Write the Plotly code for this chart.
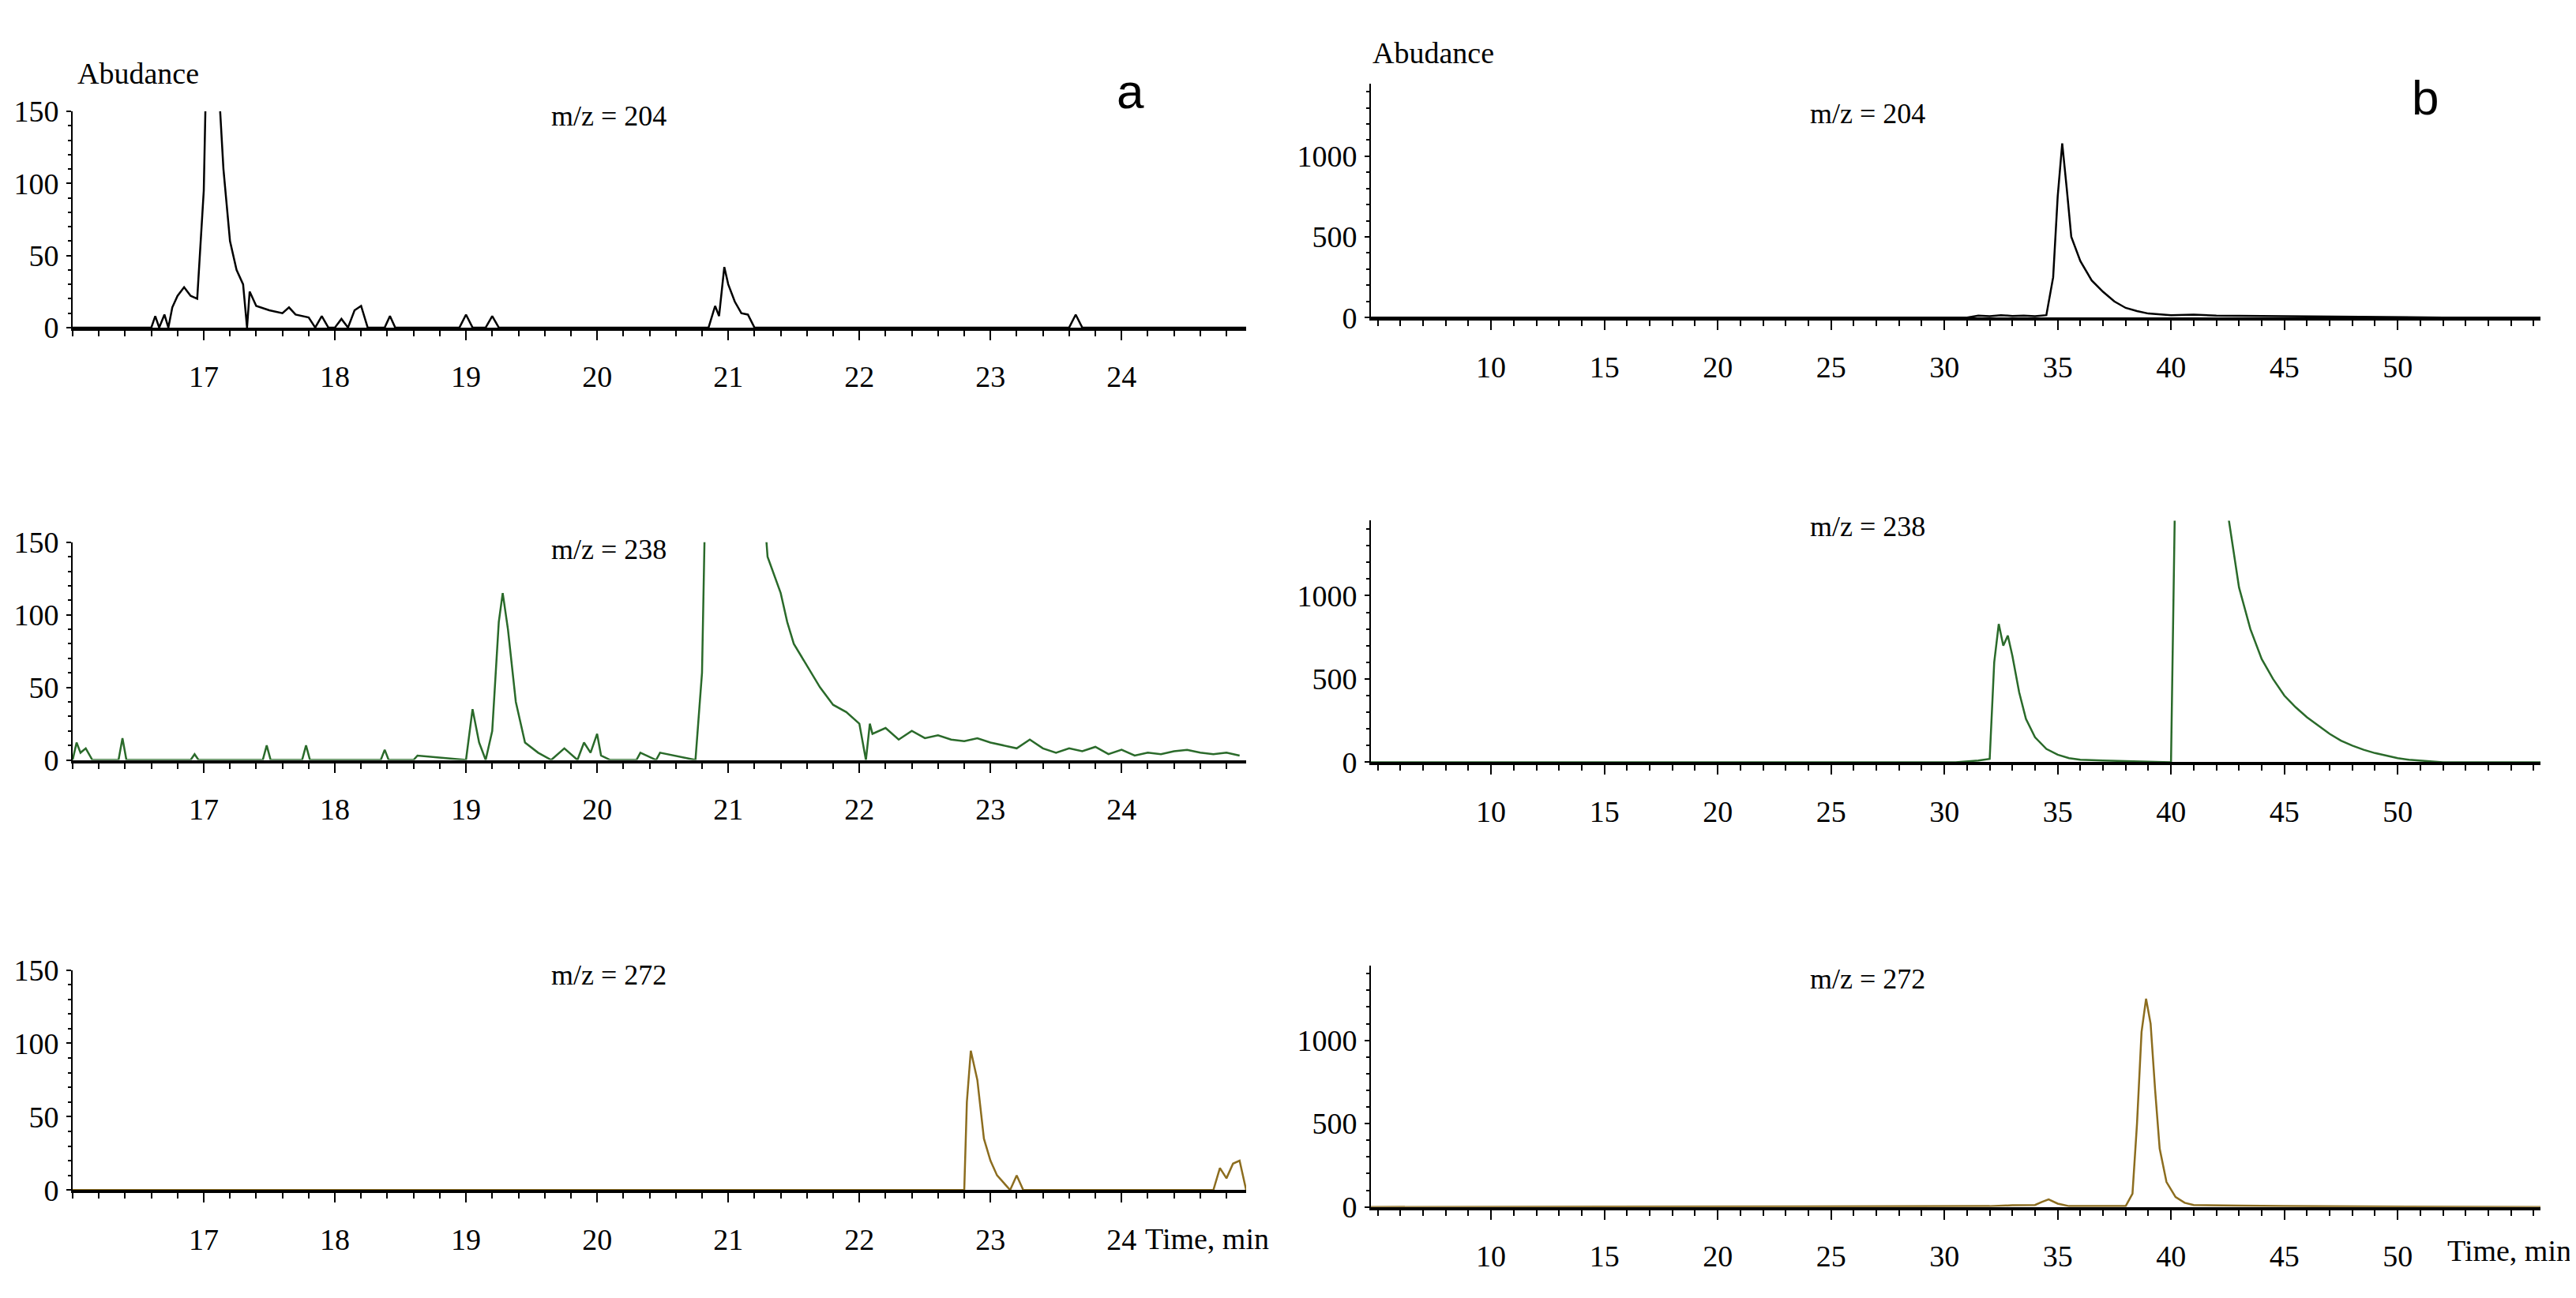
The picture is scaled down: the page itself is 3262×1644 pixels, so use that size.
import plotly.graph_objects as go

W, H = 3262, 1644

# ---- panel a (16-25 min), abundance 0-150 ----
a204_t = [16.0, 16.6, 16.63, 16.66, 16.7, 16.73, 16.76, 16.8, 16.85, 16.9, 16.95, 17.0, 17.03,
          17.07, 17.1, 17.15, 17.2, 17.25, 17.3, 17.33, 17.35, 17.4, 17.5, 17.6, 17.65, 17.7,
          17.8, 17.85, 17.9, 17.95, 18.0, 18.05, 18.1, 18.15, 18.2, 18.25, 18.38, 18.42, 18.46,
          18.95, 19.0, 19.05, 19.15, 19.2, 19.25, 20.85, 20.9, 20.93, 20.97, 21.0, 21.05, 21.1,
          21.15, 21.2, 23.6, 23.65, 23.7, 24.95]
a204_y = [0, 0, 8, 0, 9, 0, 14, 22, 28, 22, 20, 95, 230, 250, 190, 110, 60, 40, 30, 0, 25, 15,
          12, 10, 14, 9, 7, 0, 8, 0, 0, 6, 0, 12, 15, 0, 0, 8, 0, 0, 9, 0, 0, 8, 0, 0, 15, 8, 42,
          30, 18, 10, 9, 0, 0, 9, 0, 0]

a238_t = [16.0, 16.03, 16.06, 16.1, 16.15, 16.2, 16.35, 16.38, 16.41, 16.9, 16.93, 16.96, 17.45,
          17.48, 17.51, 17.75, 17.78, 17.81, 18.35, 18.38, 18.41, 18.6, 18.63, 19.0, 19.05, 19.1,
          19.15, 19.2, 19.25, 19.28, 19.32, 19.38, 19.45, 19.55, 19.65, 19.75, 19.85, 19.9,
          19.95, 20.0, 20.03, 20.1, 20.3, 20.33, 20.45, 20.48, 20.75, 20.8, 20.85, 20.9, 21.2,
          21.25, 21.3, 21.4, 21.45, 21.5, 21.6, 21.7, 21.8, 21.9, 22.0, 22.05, 22.08, 22.1, 22.2,
          22.3, 22.4, 22.5, 22.6, 22.7, 22.8, 22.9, 23.0, 23.1, 23.2, 23.3, 23.4, 23.5, 23.6,
          23.7, 23.8, 23.9, 24.0, 24.1, 24.2, 24.3, 24.4, 24.5, 24.6, 24.7, 24.8, 24.9]
a238_y = [0, 12, 5, 8, 0, 0, 0, 15, 0, 0, 4, 0, 0, 10, 0, 0, 10, 0, 0, 7, 0, 0, 3, 0, 35, 12,
          0, 20, 95, 115, 90, 40, 12, 5, 0, 8, 0, 12, 5, 18, 3, 0, 0, 5, 0, 5, 0, 60, 300, 400,
          400, 200, 140, 115, 95, 80, 65, 50, 38, 33, 25, 0, 25, 18, 22, 14, 20, 15, 17, 14, 13,
          15, 12, 10, 8, 14, 8, 5, 8, 6, 9, 4, 7, 3, 5, 4, 6, 7, 5, 4, 5, 3]

a272_t = [16.0, 22.8, 22.82, 22.85, 22.9, 22.95, 23.0, 23.05, 23.1, 23.15, 23.2, 23.25, 24.7,
          24.75, 24.8, 24.85, 24.9, 24.95]
a272_y = [0, 0, 60, 95, 75, 35, 20, 10, 5, 0, 10, 0, 0, 15, 8, 18, 20, 0]

# ---- panel b (5-56 min), abundance 0-1450 ----
b204_t = [4.7, 31.0, 31.5, 32.0, 32.5, 33.0, 33.5, 34.0, 34.5, 34.8, 35.0, 35.2, 35.4, 35.6,
          36.0, 36.5, 37.0, 37.5, 38.0, 38.5, 39.0, 39.5, 40.0, 41.0, 42.0, 44.0, 46.0, 48.0,
          50.0, 52.0, 56.3]
b204_y = [0, 0, 12, 8, 15, 10, 12, 8, 15, 250, 750, 1080, 800, 500, 350, 230, 160, 100, 60,
          40, 25, 20, 15, 18, 12, 10, 8, 6, 5, 0, 0]

b238_t = [4.7, 30.5, 31.5, 32.0, 32.2, 32.4, 32.6, 32.8, 33.0, 33.3, 33.6, 34.0, 34.5, 35.0,
          35.5, 36.0, 37.0, 38.0, 39.0, 40.0, 40.2, 40.3, 42.3, 42.5, 43.0, 43.5, 44.0, 44.5,
          45.0, 45.5, 46.0, 46.5, 47.0, 47.5, 48.0, 48.5, 49.0, 49.5, 50.0, 50.5, 51.0, 52.0,
          56.3]
b238_y = [0, 0, 10, 20, 600, 830, 700, 760, 640, 420, 260, 150, 80, 45, 25, 15, 10, 5, 3, 0,
          1800, 2000, 2000, 1500, 1050, 800, 620, 500, 400, 330, 270, 220, 170, 130, 100, 75,
          55, 40, 25, 15, 10, 0, 0]

b272_t = [4.7, 32.0, 33.0, 34.0, 34.3, 34.6, 35.0, 35.5, 38.0, 38.3, 38.5, 38.7, 38.9, 39.1,
          39.3, 39.5, 39.8, 40.2, 40.6, 41.0, 43.0, 45.0, 56.3]
b272_y = [0, 5, 10, 12, 30, 45, 20, 5, 5, 80, 500, 1050, 1250, 1100, 700, 350, 150, 60, 25,
          12, 8, 5, 0]

a_xticks = [17, 18, 19, 20, 21, 22, 23, 24]
a_yticks = [0, 50, 100, 150]
b_xticks = [10, 15, 20, 25, 30, 35, 40, 45, 50]
b_yticks = [0, 500, 1000]
mz_labels = ["m/z = 204", "m/z = 238", "m/z = 272"]

GREEN = "#2a6a2a"
OLIVE = "#8c6d1f"
FONT = "Liberation Serif"

def px(x):
    return x / W

def py(y):
    return 1 - y / H

# pixel boxes of each plot area
a_x = (84, 1570)
b_x = (1728, 3209)
a_rows = [(115, 396), (675, 958), (1231, 1517)]
b_rows = [(79, 383), (647, 961), (1225, 1539)]

panels = [
    (a_x, a_rows, [(a204_t, a204_y, "black"), (a238_t, a238_y, GREEN), (a272_t, a272_y, OLIVE)],
     [16.0, 24.95], [0, 150], a_xticks, a_yticks, 0.2, 10),
    (b_x, b_rows, [(b204_t, b204_y, "black"), (b238_t, b238_y, GREEN), (b272_t, b272_y, OLIVE)],
     [4.7, 56.3], [0, 1450], b_xticks, b_yticks, 1, 100),
]

fig = go.Figure()
layout = {}
n = 0
for xb, rows, series, xr, yr, xt, yt, xminor, yminor in panels:
    for (top, bot), (t, y, col) in zip(rows, series):
        n += 1
        xa = "x" if n == 1 else f"x{n}"
        ya = "y" if n == 1 else f"y{n}"
        fig.add_trace(go.Scatter(x=t, y=y, mode="lines", line=dict(color=col, width=2.5),
                                 xaxis=xa, yaxis=ya, showlegend=False))
        common = dict(showline=True, linecolor="black", showgrid=False, zeroline=False,
                      ticks="outside", tickcolor="black",
                      tickfont=dict(family=FONT, size=38, color="black"))
        layout[f"xaxis{'' if n == 1 else n}"] = dict(
            common, domain=[px(xb[0]), px(xb[1])], range=xr, anchor=ya,
            tickvals=xt, ticklen=12, tickwidth=2, linewidth=4, ticklabelstandoff=14,
            minor=dict(dtick=xminor, ticks="outside", ticklen=7, tickcolor="black", tickwidth=2))
        layout[f"yaxis{'' if n == 1 else n}"] = dict(
            common, domain=[py(bot), py(top)], range=yr, anchor=xa,
            tickvals=yt, ticklen=6, tickwidth=2, linewidth=2, ticklabelstandoff=2,
            minor=dict(dtick=yminor, ticks="outside", ticklen=4, tickcolor="black", tickwidth=2))

fig.update_layout(**layout)

ann = []
ann.append(dict(x=px(167), y=py(66), text="Abudance", font=dict(family=FONT, size=38)))
ann.append(dict(x=px(1807), y=py(39), text="Abudance", font=dict(family=FONT, size=38)))
for cx, ys in [(763, [121, 684, 1238]), (2357, [118, 655, 1243])]:
    for yy, lab in zip(ys, mz_labels):
        ann.append(dict(x=px(cx), y=py(yy), text=lab, font=dict(family=FONT, size=36)))
ann.append(dict(x=px(1423), y=py(89), text="a", font=dict(family="Liberation Sans", size=62)))
ann.append(dict(x=px(3063), y=py(97), text="b", font=dict(family="Liberation Sans", size=62)))
ann.append(dict(x=px(1520), y=py(1580), text="Time, min", font=dict(family=FONT, size=38)))
ann.append(dict(x=px(3172), y=py(1596), text="Time, min", font=dict(family=FONT, size=38)))
for a in ann:
    a.update(xref="paper", yref="paper", showarrow=False, xanchor="center", yanchor="middle")
    a["font"]["color"] = "black"
ann[-1]["xanchor"] = "right"
ann[-1]["x"] = px(3250)

fig.update_layout(annotations=ann, width=W, height=H, margin=dict(l=0, r=0, t=0, b=0),
                  paper_bgcolor="white", plot_bgcolor="white")
fig.write_html("out.html")
